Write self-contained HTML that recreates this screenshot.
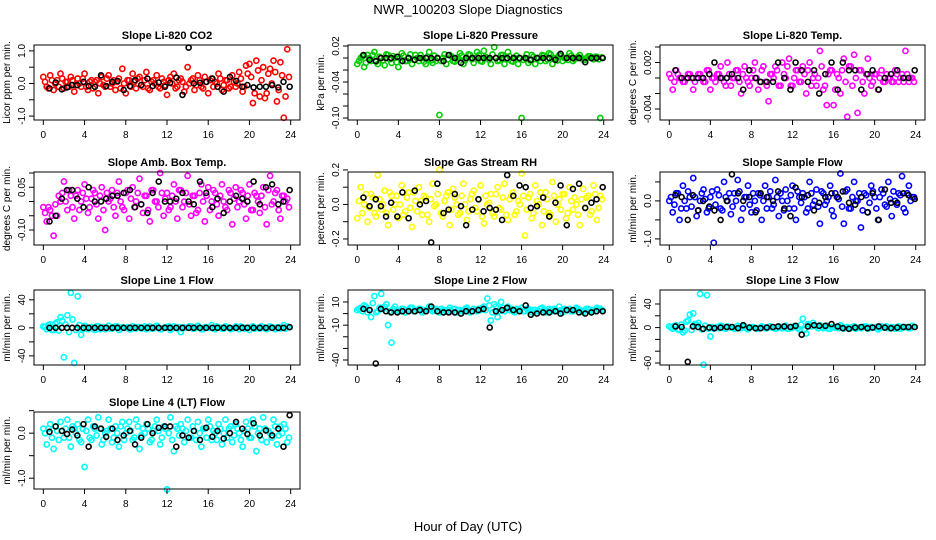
<!DOCTYPE html>
<html><head><meta charset="utf-8">
<style>
html,body{margin:0;padding:0;background:#fff;}
svg{display:block;font-family:"Liberation Sans",sans-serif;}
</style></head>
<body>
<svg id="chart" width="936" height="540" viewBox="0 0 936 540" xmlns="http://www.w3.org/2000/svg">
<text x="468" y="14" font-size="13" text-anchor="middle">NWR_100203  Slope Diagnostics</text>
<text x="468" y="531" font-size="13" text-anchor="middle">Hour of Day (UTC)</text>
</svg>
<script>
const xTicks = [0,4,8,12,16,20,24];
const blackHours = [0.6,1.2,1.8,2.3,2.8,3.3,3.9,4.4,5.0,5.6,6.1,6.7,7.2,7.8,8.4,8.9,9.5,10.1,10.6,11.2,11.8,12.3,12.9,13.5,14.1,14.6,15.2,15.8,16.4,16.9,17.5,18.1,18.7,19.3,19.8,20.4,21.0,21.6,22.2,22.8,23.3,23.9];

const co2C = [0.2,-0.1,0.25,-0.2,0.1,0.3,-0.15,0.05,0.2,-0.25,0.15,-0.1,0.3,-0.2,0.1,0.05,-0.3,0.2,-0.1,0.25,0.0,-0.2,0.15,0.45,-0.3,0.1,0.3,-0.15,0.2,-0.1,0.35,-0.2,0.1,0.25,-0.15,0.05,-0.35,0.2,0.3,-0.1,0.15,-0.25,0.5,0.1,-0.2,0.25,-0.1,0.2,-0.3,0.15,0.05,0.3,-0.2,0.1,-0.15,0.25,-0.1,0.35,-0.25,0.55,0.6,-0.6,0.7,-0.4,0.5,-0.3,0.45,0.7,-0.55,0.65,-1.05,1.05];
const co2B = [0.05,-0.15,0.1,0.0,-0.1,0.15,0.05,-0.1,0.1,-0.05,0.0,0.15,-0.1,0.05,-0.15,0.1,0.0,-0.05,0.15,-0.1,0.1,0.05,-0.15,0.0,0.1,-0.1,0.05,0.15,-0.05,0.1,-0.15,0.05,0.0,-0.1,0.15,-0.05,0.1,0.0,-0.15,0.1,0.05,-0.1,0.0,0.15,-0.05,0.1,-0.15,0.05,0.1,-0.1,0.0,0.15,-0.05,0.1,-0.1,0.05,0.0,0.15,-0.1,0.3,0.2,-0.3,0.4,0.1,-0.45,0.3,0.0,0.35,-0.2,0.25,-0.4,0.2];
const co2K = [-0.15,0.03,-0.18,-0.12,-0.05,-0.05,0.05,-0.08,-0.1,0.25,-0.08,0.05,0.08,-0.2,-0.08,0.1,-0.05,0.15,-0.08,0.03,-0.1,0.02,0.18,-0.35,1.1,0.0,0.02,0.05,0.15,-0.1,-0.25,0.2,0.08,-0.1,-0.05,-0.12,-0.1,-0.1,-0.05,-0.12,0.05,-0.1];
const presC = [-0.01,0.0,-0.015,0.005,-0.005,0.01,-0.01,0.0,-0.012,0.005,-0.008,0.0,-0.015,0.008,-0.005,0.0,-0.01,0.005,-0.005,0.0,-0.01,0.01,-0.008,-0.005,-0.095,0.0,-0.01,0.005,-0.005,0.0,0.008,-0.01,0.0,0.005,-0.008,0.01,-0.005,0.012,0.0,-0.01,0.018,-0.005,0.005,-0.01,0.01,-0.005,0.0,-0.01,-0.1,0.0,-0.008,0.005,-0.01,0.0,0.005,-0.005,0.008,-0.01,0.0,0.005,-0.005,0.0,0.008,-0.005,0.0,0.005,-0.003,0.0,0.003,-0.002,0.002,-0.1];
const presB = [-0.005,0.003,-0.008,0.0,0.005,-0.006,0.002,-0.004,0.006,-0.002,0.003,-0.007,0.0,0.004,-0.005,0.006,-0.003,0.0,0.005,-0.006,0.002,-0.004,0.004,0.0,-0.005,0.006,-0.002,0.003,-0.006,0.0,0.004,-0.004,0.006,-0.002,0.0,0.005,-0.006,0.002,-0.003,0.006,0.0,-0.004,0.005,-0.002,0.003,-0.006,0.004,0.0,-0.003,0.006,-0.004,0.002,0.0,-0.005,0.004,-0.002,0.006,0.0,-0.004,0.003,0.0,-0.003,0.004,-0.002,0.002,0.0,-0.003,0.003,0.0,0.002,-0.002,0.001];
const presK = [0.005,-0.003,-0.005,0.0,0.0,0.0,0.002,-0.005,0.0,-0.003,0.0,0.0,0.0,0.0,-0.005,0.005,0.0,-0.008,0.0,0.0,0.0,0.0,0.0,0.0,0.0,0.0,0.0,0.0,0.0,-0.003,0.0,0.0,0.0,-0.003,0.007,0.0,0.0,0.0,-0.007,0.0,0.0,0.0];
const tempC = [0.0005,-0.0015,0.001,0.0,-0.0005,0.0,0.0005,-0.0015,0.0,0.0005,-0.0005,0.001,-0.0015,0.0,0.0005,0.0015,-0.0005,0.002,-0.001,0.0,0.001,-0.002,0.0015,-0.0005,0.0,0.002,-0.0015,0.001,-0.0005,-0.003,0.0005,0.0015,-0.001,0.002,0.0,0.0025,-0.001,0.001,-0.0005,0.0015,-0.002,0.002,0.0,-0.001,0.0035,-0.0015,-0.0035,0.001,-0.0035,0.0005,-0.002,0.0025,-0.005,0.0015,0.003,-0.0045,0.001,-0.002,0.0025,-0.001,0.0005,-0.0015,0.001,-0.0005,0.0,-0.0005,0.001,-0.0005,0.0005,0.0035,-0.0005,0.0];
const tempB = [0.0,-0.0005,0.0005,0.0,-0.0005,0.0005,0.0,-0.0005,0.0005,0.0,-0.0005,0.001,0.0,-0.0005,0.0005,0.0,-0.001,0.0005,0.0,0.001,-0.0005,0.0005,0.0,-0.001,0.001,0.0,-0.0005,0.0015,-0.001,0.0005,0.0,0.001,-0.001,0.0005,0.0015,-0.001,0.0,0.001,-0.0005,0.0005,0.001,-0.001,0.0005,0.0,0.0015,-0.001,0.0005,0.001,-0.0015,0.0,0.001,-0.0005,0.0015,-0.001,0.0,0.001,-0.0005,0.0005,0.0,-0.0005,0.0005,0.0,-0.0005,0.0005,0.0,-0.0005,0.0005,0.0,-0.0005,0.0005,0.0,-0.0005];
const tempK = [0.001,0.0,0.0,0.0,0.0,0.0,0.0005,0.002,0.0,0.0,0.0005,0.0,-0.0015,0.001,0.0,-0.0005,-0.0005,-0.0005,0.002,0.0,-0.0015,0.002,0.001,-0.0005,0.001,-0.002,0.0005,0.002,-0.0015,0.002,0.001,0.001,-0.0015,0.0005,0.001,-0.0015,0.0,0.0005,0.001,0.0,0.0,0.001];
const ambC = [-0.02,-0.07,-0.03,-0.12,-0.05,0.0,0.07,-0.03,0.02,-0.06,0.04,0.0,0.06,-0.04,0.01,0.03,-0.06,0.05,-0.1,0.0,0.04,-0.05,0.07,-0.02,0.03,-0.06,0.05,0.0,0.08,-0.04,0.02,-0.07,0.04,0.0,0.1,-0.05,0.03,-0.02,0.06,-0.06,0.04,0.0,0.09,-0.05,0.02,-0.03,0.06,-0.07,0.05,0.0,0.03,-0.05,0.06,-0.02,0.04,-0.08,0.05,0.0,0.03,-0.06,0.06,-0.03,0.02,-0.04,0.05,-0.08,0.09,0.0,0.04,-0.06,0.02,0.01];
const ambB = [-0.04,-0.02,-0.05,-0.01,0.02,0.03,0.0,0.04,-0.02,0.02,-0.03,0.03,0.01,-0.02,0.04,-0.01,0.02,-0.03,0.03,0.01,-0.02,0.03,0.0,-0.03,0.04,0.01,-0.02,0.03,-0.01,0.02,-0.03,0.04,0.0,-0.02,0.03,0.01,-0.03,0.02,0.0,0.04,-0.02,0.03,-0.01,0.02,-0.04,0.03,0.0,0.02,-0.03,0.04,-0.01,0.02,0.0,-0.03,0.03,0.01,-0.02,0.04,-0.01,0.02,-0.03,0.03,0.0,0.02,-0.02,0.04,-0.01,0.03,-0.03,0.02,0.0,-0.02];
const ambK = [-0.07,-0.05,0.01,0.04,0.04,0.01,-0.02,0.05,0.0,0.0,0.01,0.02,0.02,0.03,0.04,-0.02,-0.01,-0.04,0.03,0.07,0.0,0.0,0.01,0.03,0.0,-0.01,0.07,0.03,-0.02,0.01,-0.04,0.0,0.02,0.01,0.0,0.07,-0.01,0.05,0.06,-0.01,0.0,0.04];
const rhC = [-0.08,0.1,0.0,-0.1,0.06,-0.05,0.17,-0.03,0.08,-0.12,0.05,0.0,-0.08,0.11,-0.04,0.07,-0.13,0.02,0.1,-0.06,0.04,-0.1,0.12,0.0,0.2,-0.07,0.05,-0.12,0.09,0.0,-0.05,0.12,-0.09,0.03,0.08,-0.04,0.11,-0.11,0.0,0.06,-0.07,0.1,-0.03,0.12,-0.09,0.05,-0.06,0.02,0.18,-0.18,0.04,-0.08,0.11,0.0,-0.12,0.07,-0.05,0.13,-0.1,0.03,0.06,-0.08,0.1,-0.03,0.0,-0.12,0.09,0.04,-0.06,0.11,-0.09,0.05];
const rhB = [0.02,-0.05,0.06,-0.02,0.04,-0.07,0.03,0.0,-0.05,0.07,-0.03,0.05,0.0,-0.06,0.04,-0.02,0.07,-0.04,0.02,0.05,-0.06,0.03,-0.01,0.06,-0.05,0.02,0.07,-0.03,0.04,-0.06,0.05,0.0,-0.04,0.06,-0.02,0.03,-0.07,0.05,0.01,-0.05,0.06,-0.02,0.04,-0.06,0.03,0.07,-0.04,0.0,0.05,-0.03,0.06,-0.05,0.02,0.07,-0.04,0.03,-0.06,0.05,0.0,-0.03,0.06,-0.05,0.02,0.04,-0.06,0.03,-0.02,0.05,-0.04,0.06,-0.02,0.03];
const rhK = [0.04,-0.01,0.03,-0.01,-0.07,0.01,-0.07,0.07,-0.08,0.08,0.0,0.02,-0.22,0.12,-0.05,-0.03,0.06,-0.01,-0.12,-0.03,0.03,-0.04,-0.02,-0.03,-0.09,0.17,0.05,0.11,0.1,-0.02,-0.01,0.04,-0.07,0.01,0.11,-0.12,0.09,0.12,-0.02,0.01,0.03,0.1];
const sfC = [0.0,-0.3,0.2,-0.5,0.4,-0.2,0.1,0.6,-0.4,0.0,0.3,-0.3,0.1,-1.1,0.3,-0.2,0.5,0.0,-0.35,0.2,0.55,-0.5,0.1,0.4,-0.3,0.0,0.2,-0.5,0.4,0.1,-0.2,0.55,-0.4,0.0,0.3,-0.2,0.4,-0.5,0.1,0.2,-0.3,0.5,-0.1,0.3,-0.6,0.2,0.0,0.4,-0.4,0.1,0.72,-0.6,0.3,-0.2,0.5,0.0,-0.7,0.2,-0.3,0.4,0.1,-0.5,0.3,-0.1,0.5,-0.4,0.0,0.2,0.65,-0.3,0.4,0.1];
const sfB = [0.1,-0.1,0.2,-0.2,0.0,0.25,-0.15,0.1,-0.25,0.2,0.05,-0.2,0.25,-0.1,0.15,-0.25,0.1,0.2,-0.15,0.0,0.25,-0.2,0.1,-0.1,0.2,-0.25,0.15,0.0,-0.2,0.25,-0.1,0.1,0.2,-0.25,0.0,0.15,-0.2,0.25,-0.05,0.1,-0.2,0.2,0.0,-0.15,0.25,-0.1,0.1,-0.25,0.2,0.05,-0.15,0.25,-0.2,0.1,0.0,0.2,-0.25,0.15,-0.05,0.25,-0.2,0.1,0.2,-0.15,0.05,0.25,-0.1,0.15,-0.2,0.2,0.0,0.1];
const sfK = [0.15,0.1,-0.5,0.15,-0.25,0.0,-0.15,-0.25,-0.5,0.0,0.7,0.2,0.0,0.1,-0.3,0.2,0.1,0.0,0.25,-0.2,-0.4,0.35,0.1,0.15,-0.25,-0.05,0.1,0.2,0.1,0.25,-0.05,-0.1,0.1,-0.3,0.2,-0.5,0.3,-0.05,-0.05,0.2,0.15,0.05];
const l1C = [2,-2,5,-3,8,15,-42,18,50,-50,45,-10,3,-2,1,-3,2,0,-2,3,-1,2,-3,1,0,-2,2,-1,1,0,-2,2,-1,3,-2,0,1,-3,2,-1,-6,1,0,2,-1,3,-2,1,0,4,-2,1,-1,2,0,-1,2,-2,1,0,-3,2,0,-1,1,-2,2,0,1,-1,4,2];
const l1B = [1,4,-3,6,-4,10,5,-6,12,-3,4,-2,1,0,-1,2,-2,1,0,-1,1,2,-1,0,1,-2,0,1,-1,2,0,-1,1,0,-2,1,2,-1,0,1,-1,0,2,-1,1,0,-2,1,0,-1,2,0,-1,1,-2,0,1,2,-1,0,1,-1,0,2,-1,0,1,-2,1,0,-1,1];
const l1K = [0,0,0,0,0,0,0,0,0,0,0,0,0,0,0,0,0,0,0,0,0,0,0,0,0,0,0,0,0,0,0,0,0,0,0,0,0,0,0,0,0,1];
const l2C = [3,5,7,1,-3,15,2,17,6,-10,-25,6,2,4,1,3,5,2,4,1,3,6,2,4,1,3,2,5,4,1,3,2,5,1,4,2,3,6,13,-6,8,-3,10,2,6,4,1,3,5,2,4,1,3,2,5,1,4,2,3,6,1,3,4,2,5,3,1,4,2,3,5,4];
const l2B = [4,2,6,3,9,1,5,4,8,2,4,3,2,4,3,5,2,3,4,2,3,4,3,2,4,3,3,2,4,3,2,4,3,2,3,4,5,3,7,1,6,2,5,4,3,2,4,3,2,4,3,3,2,4,3,2,3,4,2,3,4,3,2,3,4,2,3,4,3,2,4,3];
const l2K = [4,3,-43,4,2,1,1,2,2,2,3,2,6,2,1,1,1,0,2,2,3,4,-12,2,3,5,3,2,7,-1,0,1,1,2,0,3,3,1,0,1,2,2];
const l3C = [2,-2,4,-4,-8,10,22,24,5,57,-63,55,-15,-2,1,3,-1,2,0,-2,3,-1,2,-3,1,0,-2,2,-1,1,0,-2,2,-1,3,-2,0,1,-3,15,-10,5,8,2,4,-1,3,-2,1,0,4,-2,1,-1,2,0,-1,2,-2,1,0,-3,2,0,-1,1,-2,2,0,1,-1,3];
const l3B = [0,3,-3,5,-5,12,-4,6,8,-3,3,-2,1,0,-1,2,-2,1,0,-1,1,2,-1,0,1,-2,0,1,-1,2,0,-1,1,0,-2,1,2,-1,5,-4,6,2,3,-1,1,0,-2,1,0,-1,2,0,-1,1,-2,0,1,2,-1,0,1,-1,0,2,-1,0,1,-2,1,0,-1,1];
const l3K = [2,1,-58,2,1,-2,0,-1,0,1,1,-1,4,0,-1,-1,0,1,2,2,1,3,-12,2,4,3,3,6,2,-1,-2,0,1,-1,0,2,0,-1,0,1,1,1];
const l4C = [0.1,-0.25,0.2,-0.35,0.05,0.25,-0.1,0.3,-0.3,0.1,0.2,-0.2,-0.75,0.3,-0.15,0.1,0.35,-0.25,0.0,0.3,-0.2,0.15,-0.3,0.25,0.0,0.25,-0.15,0.3,-0.35,0.1,0.2,-0.2,0.05,0.3,-0.25,0.15,-1.25,0.35,-0.4,0.1,0.2,-0.2,0.3,-0.1,0.05,0.25,-0.3,0.1,0.3,-0.15,0.0,0.2,-0.25,0.3,0.1,-0.2,0.2,0.0,-0.3,0.25,-0.1,0.3,-0.4,0.1,0.35,-0.2,0.0,0.3,-0.25,0.15,0.2,-0.2];
const l4B = [0.0,0.1,-0.1,0.15,-0.15,0.05,0.1,-0.1,0.15,0.0,-0.15,0.1,0.05,-0.1,0.15,-0.05,0.1,-0.15,0.05,0.1,-0.1,0.0,0.15,-0.15,0.1,0.05,-0.1,0.15,-0.05,0.0,0.1,-0.15,0.15,0.05,-0.1,0.1,0.0,-0.15,0.15,-0.05,0.1,0.05,-0.1,0.15,-0.15,0.0,0.1,-0.1,0.15,0.05,-0.15,0.1,0.0,-0.1,0.15,-0.05,0.1,-0.15,0.05,0.1,-0.1,0.15,0.0,-0.15,0.1,0.05,-0.1,0.15,-0.05,0.0,0.1,-0.1];
const l4K = [0.03,0.15,0.05,-0.02,0.08,-0.05,0.2,-0.3,0.15,0.1,-0.08,0.1,-0.15,-0.05,0.05,-0.25,-0.1,0.2,0.0,0.12,0.15,0.15,-0.3,-0.05,-0.1,0.05,-0.15,0.12,-0.08,0.05,-0.12,0.0,0.25,0.1,-0.02,0.22,-0.05,0.06,-0.05,0.1,-0.3,0.4];

const panels = [
 {name:'co2',title:'Slope Li-820 CO2',ylab:'Licor ppm per min.',col:0,row:0,lo:-1.12,hi:1.18,color:'#ff0000',c:co2C,b:co2B,k:co2K,ticks:[1,0.5,0,-0.5,-1],labels:['1.0','','0.0','','-1.0']},
 {name:'pressure',title:'Slope Li-820 Pressure',ylab:'kPa per min.',col:1,row:0,lo:-0.1033,hi:0.0217,color:'#00cc00',c:presC,b:presB,k:presK,ticks:[0.02,0,-0.02,-0.04,-0.06,-0.08,-0.10],labels:['0.02','','','-0.04','','','-0.10']},
 {name:'temp',title:'Slope Li-820 Temp.',ylab:'degrees C per min.',col:2,row:0,lo:-0.00542,hi:0.00426,color:'#ff00ff',c:tempC,b:tempB,k:tempK,ticks:[0.004,0.002,0,-0.002,-0.004],labels:['','0.002','','','-0.004']},
 {name:'amb-box-temp',title:'Slope Amb. Box Temp.',ylab:'degrees C per min.',col:0,row:1,lo:-0.1526,hi:0.1035,color:'#ff00ff',c:ambC,b:ambB,k:ambK,ticks:[0.10,0.05,0,-0.05,-0.10],labels:['','0.05','','','-0.10']},
 {name:'gas-stream-rh',title:'Slope Gas Stream RH',ylab:'percent per min.',col:1,row:1,lo:-0.235,hi:0.188,color:'#ffff00',c:rhC,b:rhB,k:rhK,ticks:[0.2,0.1,0,-0.1,-0.2],labels:['0.2','','0.0','','-0.2']},
 {name:'sample-flow',title:'Slope Sample Flow',ylab:'ml/min per min.',col:2,row:1,lo:-1.16,hi:0.76,color:'#0000ff',c:sfC,b:sfB,k:sfK,ticks:[0.5,0,-0.5,-1.0],labels:['','0.0','','-1.0']},
 {name:'line1-flow',title:'Slope Line 1 Flow',ylab:'ml/min per min.',col:0,row:2,lo:-53,hi:54,color:'#00ffff',c:l1C,b:l1B,k:l1K,ticks:[40,20,0,-20,-40],labels:['40','','0','','-40']},
 {name:'line2-flow',title:'Slope Line 2 Flow',ylab:'ml/min per min.',col:1,row:2,lo:-44.3,hi:20.3,color:'#00ffff',c:l2C,b:l2B,k:l2K,ticks:[10,0,-10,-20,-30,-40],labels:['10','','-10','','','-40']},
 {name:'line3-flow',title:'Slope Line 3 Flow',ylab:'ml/min per min.',col:2,row:2,lo:-63.4,hi:63.7,color:'#00ffff',c:l3C,b:l3B,k:l3K,ticks:[40,20,0,-20,-40,-60],labels:['40','','0','','','-60']},
 {name:'line4-flow',title:'Slope Line 4 (LT) Flow',ylab:'ml/min per min.',col:0,row:3,lo:-1.24,hi:0.47,color:'#00ffff',c:l4C,b:l4B,k:l4K,ticks:[0.5,0,-0.5,-1.0],labels:['','0.0','','-1.0']}
];
const colX = [[34,300],[348,613],[660,925]];
const rowY = [[45,120],[172,245],[290,365],[412,489]];
const NS = 'http://www.w3.org/2000/svg';
const svg = document.getElementById('chart');
function mk(tag, attrs, parent){
  const e = document.createElementNS(NS, tag);
  for (const k in attrs) e.setAttribute(k, attrs[k]);
  (parent||svg).appendChild(e);
  return e;
}
panels.forEach(p => {
  const [x0,x1] = colX[p.col], [y0,y1] = rowY[p.row];
  const g = mk('g', {});
  
  
  const w = x1-x0;
  const xs = h => x0 + w*0.035 + (h/24)*(w*0.93);
  const ys = v => y1 - (v - p.lo)/(p.hi - p.lo)*(y1-y0);
  const nC = p.c.length;
  p.c.forEach((v,i) => {
    const h = i*24/nC;
    const c = mk('circle', {cx:xs(h), cy:ys(v), r:2.6, fill:'none', stroke:p.color, 'stroke-width':1.6}, g);
    
    
  });
  const nB = p.b.length;
  p.b.forEach((v,i) => {
    const h = (i+0.5)*24/nB;
    const c = mk('circle', {cx:xs(h), cy:ys(v), r:2.6, fill:'none', stroke:p.color, 'stroke-width':1.6}, g);
    
    
  });
  const n = Math.min(p.k.length, blackHours.length);
  for (let i=0;i<n;i++){
    const c = mk('circle', {cx:xs(blackHours[i]), cy:ys(p.k[i]), r:2.5, fill:'none', stroke:'#000', 'stroke-width':1.6}, g);
    
    
  }
  const box = mk('rect', {x:x0, y:y0, width:w, height:y1-y0, fill:'none', stroke:'#000', 'stroke-width':1}, g);
  
  
  const t = mk('text', {x:(x0+x1)/2, y:y0-6, 'font-size':11, 'font-weight':'bold', 'text-anchor':'middle'}, g);
  t.textContent = p.title;
  
  
  xTicks.forEach(tv => {
    const x = xs(tv);
    mk('line', {x1:x, x2:x, y1:y1, y2:y1+5, stroke:'#000'}, g);
    const tl = mk('text', {x:x, y:y1+18, 'font-size':10, 'text-anchor':'middle'}, g);
    tl.textContent = tv;
    
    
  });
  p.ticks.forEach((tv,i) => {
    const y = ys(tv);
    mk('line', {x1:x0-5, x2:x0, y1:y, y2:y, stroke:'#000'}, g);
    if (p.labels[i]) {
      const tl = mk('text', {x:x0-9, y:y, 'font-size':10, 'text-anchor':'middle', transform:`rotate(-90 ${x0-9} ${y})`}, g);
      tl.textContent = p.labels[i];
      
      
    }
  });
  const yl = mk('text', {x:x0-24, y:(y0+y1)/2, 'font-size':10, 'text-anchor':'middle', transform:`rotate(-90 ${x0-24} ${(y0+y1)/2})`}, g);
  yl.textContent = p.ylab;
  
  
});
</script>
</body></html>
